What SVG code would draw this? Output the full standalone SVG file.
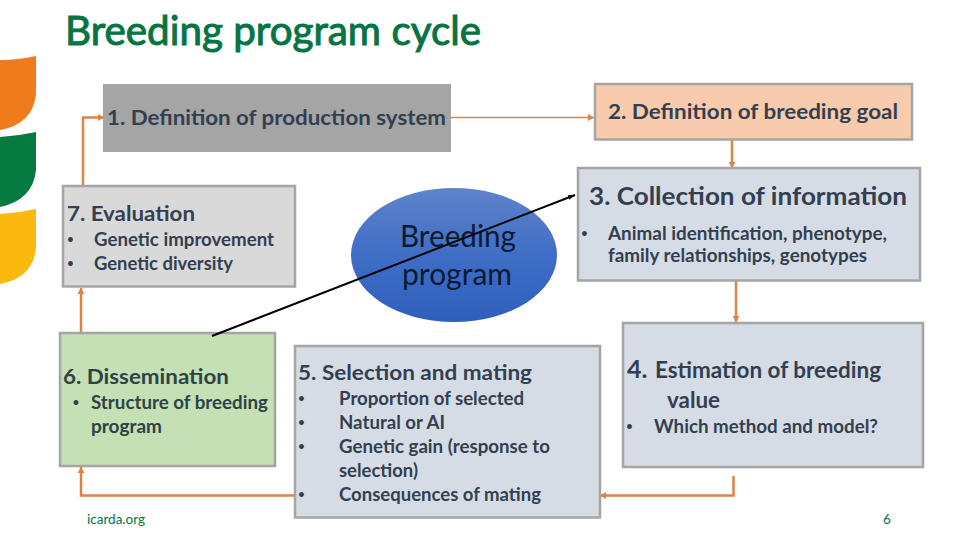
<svg xmlns="http://www.w3.org/2000/svg" width="960" height="540" viewBox="0 0 960 540">
<style>
text{font-family:Lato,"Liberation Sans",sans-serif;font-weight:700;fill:#333f50}
.box{stroke:#a5a5a5;stroke-width:2.5}
.h{font-size:21px}
.b{font-size:18px}
.d{font-size:11px;text-anchor:middle}
.c{fill:none;stroke:#dd8444;stroke-width:2.5}
.c2{fill:none;stroke:#dd8444;stroke-width:1.5}
</style>
<defs>
<linearGradient id="g" x1="0" y1="0" x2="0" y2="1"><stop offset="0" stop-color="#6083cb"/><stop offset="0.5" stop-color="#3e6ec5"/><stop offset="1" stop-color="#2e5fbd"/></linearGradient>
<marker id="a" markerUnits="userSpaceOnUse" markerWidth="9" markerHeight="9" refX="6" refY="4" orient="auto"><path d="M0,0.500L6,4L0,7.500Z" fill="#dd8444"/></marker>
<marker id="k" markerUnits="userSpaceOnUse" markerWidth="9" markerHeight="9" refX="7" refY="3" orient="auto"><path d="M0,0.500L7,3L0,5.500Z" fill="#000"/></marker>
</defs>
<g id="logo">
<path d="M0,60Q18,60 36,56L36,94Q33,124 0,130Z" fill="#f07b1d"/>
<path d="M0,137Q18,136 36,132L36,170Q33,200 0,207Z" fill="#067a41"/>
<path d="M0,214Q18,213 36,209L36,248Q33,278 0,284Z" fill="#fbb80f"/>
</g>
<text id="title" x="65" y="45" style="font-size:40px;fill:#067443;font-weight:400;stroke:#067443;stroke-width:1" textLength="416" lengthAdjust="spacingAndGlyphs">Breeding program cycle</text>
<g id="connectors">
<path class="c" d="M83,185V117.500H104" marker-end="url(#a)"/>
<path class="c2" d="M449,117.500H594" marker-end="url(#a)"/>
<path class="c" d="M732,140V168" marker-end="url(#a)"/>
<path class="c" d="M736,281V322" marker-end="url(#a)"/>
<path class="c" d="M733.500,476V495.500H600" marker-end="url(#a)"/>
<path class="c" d="M295,495.500H81V467" marker-end="url(#a)"/>
<path class="c" d="M81,333V288" marker-end="url(#a)"/>
</g>
<g id="n1"><rect x="103" y="84" width="348" height="68" fill="#a5a5a5"/>
<text x="107" y="124.500" class="h" textLength="339" lengthAdjust="spacingAndGlyphs">1. Definition of production system</text></g>
<g id="n2"><rect x="595" y="84" width="317" height="55.500" fill="#f8cbad" class="box"/>
<text x="608" y="118.500" class="h" textLength="290" lengthAdjust="spacingAndGlyphs">2. Definition of breeding goal</text></g>
<g id="n3"><rect x="578" y="168" width="342" height="112.500" fill="#d6dce5" class="box"/>
<text x="589" y="205" style="font-size:25px" textLength="318" lengthAdjust="spacingAndGlyphs">3. Collection of information</text>
<text x="584.500" y="237" class="d">•</text>
<text x="608" y="239.500" class="b" textLength="279" lengthAdjust="spacingAndGlyphs">Animal identification, phenotype,</text>
<text x="608" y="261.500" class="b" textLength="259" lengthAdjust="spacingAndGlyphs">family relationships, genotypes</text></g>
<g id="n4"><rect x="623" y="323" width="300" height="144" fill="#d6dce5" class="box"/>
<text x="627" y="378" style="font-size:25px">4.</text>
<text x="655" y="378" style="font-size:22.500px" textLength="226" lengthAdjust="spacingAndGlyphs">Estimation of breeding</text>
<text x="667" y="408" style="font-size:22.500px" textLength="53" lengthAdjust="spacingAndGlyphs">value</text>
<text x="629.500" y="430" class="d">•</text>
<text x="654" y="432.500" class="b" textLength="224" lengthAdjust="spacingAndGlyphs">Which method and model?</text></g>
<g id="n5"><rect x="295" y="346" width="305" height="171.500" fill="#d6dce5" class="box"/>
<text x="298" y="380" style="font-size:21.500px" textLength="234" lengthAdjust="spacingAndGlyphs">5. Selection and mating</text>
<text x="301.500" y="401.500" class="d">•</text><text x="301.500" y="425.500" class="d">•</text><text x="301.500" y="449.500" class="d">•</text><text x="301.500" y="497.500" class="d">•</text>
<text x="339" y="404.500" class="b" textLength="185" lengthAdjust="spacingAndGlyphs">Proportion of selected</text>
<text x="339" y="428.500" class="b" textLength="106" lengthAdjust="spacingAndGlyphs">Natural or AI</text>
<text x="339" y="452.500" class="b" textLength="211" lengthAdjust="spacingAndGlyphs">Genetic gain (response to</text>
<text x="339" y="476.500" class="b" textLength="79" lengthAdjust="spacingAndGlyphs">selection)</text>
<text x="339" y="500.500" class="b" textLength="202" lengthAdjust="spacingAndGlyphs">Consequences of mating</text></g>
<g id="n6"><rect x="60" y="333" width="215" height="133" fill="#c5e0b4" class="box"/>
<text x="63" y="384" style="font-size:21.500px;fill:#2e4247" textLength="166" lengthAdjust="spacingAndGlyphs">6. Dissemination</text>
<text x="76" y="406" class="d" style="fill:#2e4247">•</text>
<text x="91" y="409" class="b" style="fill:#2e4247" textLength="177" lengthAdjust="spacingAndGlyphs">Structure of breeding</text>
<text x="91" y="433" class="b" style="fill:#2e4247" textLength="71" lengthAdjust="spacingAndGlyphs">program</text></g>
<g id="n7"><rect x="63" y="186" width="232" height="100.500" fill="#d9d9d9" class="box"/>
<text x="70.500" y="242.500" class="d">•</text>
<text x="70.500" y="266.500" class="d">•</text>
<text x="67" y="220.500" style="font-size:21px" textLength="128" lengthAdjust="spacingAndGlyphs">7. Evaluation</text>
<text x="94" y="245.500" class="b" textLength="180" lengthAdjust="spacingAndGlyphs">Genetic improvement</text>
<text x="94" y="269.500" class="b" textLength="139" lengthAdjust="spacingAndGlyphs">Genetic diversity</text></g>
<g id="center"><ellipse cx="454" cy="255" rx="103" ry="67" fill="url(#g)"/>
<text x="458" y="247" text-anchor="middle" style="font-size:30px;font-weight:400;fill:#0b1a33" textLength="116" lengthAdjust="spacingAndGlyphs">Breeding</text>
<text x="457" y="285" text-anchor="middle" style="font-size:30px;font-weight:400;fill:#0b1a33" textLength="110" lengthAdjust="spacingAndGlyphs">program</text></g>
<g id="line"><path d="M212,336L575,195" fill="none" stroke="#000" stroke-width="2" marker-end="url(#k)"/></g>
<text id="foot" x="87" y="524" style="font-size:13.500px;font-weight:400;fill:#067443" textLength="58" lengthAdjust="spacingAndGlyphs">icarda.org</text>
<text id="page" x="883" y="524" style="font-size:13.500px;font-weight:400;fill:#067443">6</text>
</svg>
